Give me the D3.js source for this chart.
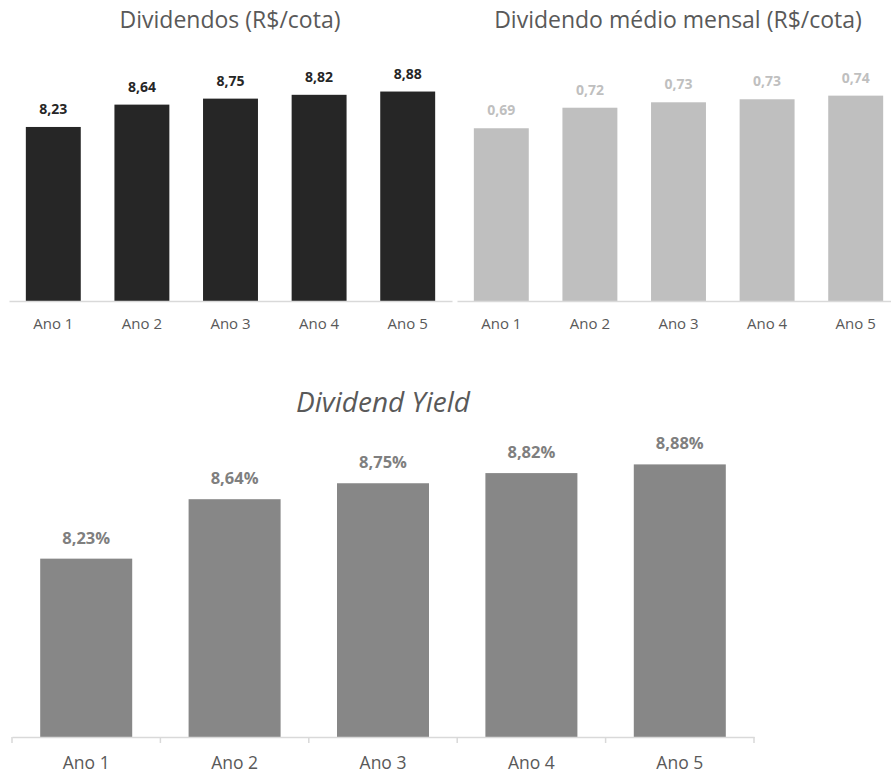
<!DOCTYPE html>
<html>
<head>
<meta charset="utf-8">
<script src="https://cdn.jsdelivr.net/npm/d3@7"></script>
<style>
  body { margin: 0; background: #fff; }
  text { font-family: "Open Sans", sans-serif; }
</style>
</head>
<body>
<div id="chart"></div>
<script>
// data
const categories = ["Ano 1", "Ano 2", "Ano 3", "Ano 4", "Ano 5"];
const dividendos = [8.23, 8.64, 8.75, 8.82, 8.88];
const dividendoMensal = [0.686, 0.720, 0.729, 0.734, 0.740];
const dividendYield = [8.23, 8.64, 8.75, 8.82, 8.88];

const width = 891, height = 773;

const ptBR = d3.formatLocale({decimal: ",", thousands: ".", grouping: [3], currency: ["R$", ""]});
const fmt2 = ptBR.format(".2f");

const svg = d3.select("#chart")
  .append("svg")
  .attr("width", width)
  .attr("height", height);

// one small bar chart
function barChart(opts) {
  const g = svg.append("g");

  const xScale = d3.scaleBand()
    .domain(categories)
    .range(opts.xRange)
    .paddingInner(0.38)
    .paddingOuter(0.19);

  const yScale = d3.scaleLinear()
    .domain(opts.yDomain)
    .range(opts.yRange);

  const data = categories.map((c, i) => ({cat: c, value: opts.values[i]}));

  g.selectAll("rect")
    .data(data)
    .join("rect")
      .attr("x", d => xScale(d.cat))
      .attr("y", d => yScale(d.value))
      .attr("width", xScale.bandwidth())
      .attr("height", d => opts.axisY - yScale(d.value))
      .attr("fill", opts.barColor);

  g.selectAll("text.value")
    .data(data)
    .join("text")
      .attr("class", "value")
      .attr("x", d => xScale(d.cat) + xScale.bandwidth() / 2)
      .attr("y", d => yScale(d.value) - opts.labelGap)
      .attr("text-anchor", "middle")
      .style("font-size", opts.labelSize + "px")
      .style("font-weight", "bold")
      .style("fill", opts.labelColor)
      .text(d => fmt2(d.value) + (opts.suffix || ""));

  const xAxis = d3.axisBottom(xScale)
    .tickSize(0)
    .tickPadding(opts.tickPadding);

  const ax = g.append("g")
    .attr("transform", `translate(0,${opts.axisY})`)
    .call(xAxis);
  ax.select(".domain")
    .attr("stroke", "#d9d9d9")
    .attr("stroke-width", 1.5);
  ax.selectAll("text")
    .style("font-family", "'Open Sans', sans-serif")
    .style("font-size", opts.tickSize + "px")
    .style("fill", "#595959");

  if (opts.tickMarks) {
    const [r0, r1] = xScale.range();
    const edges = categories.map(c => xScale(c) - xScale.step() * xScale.paddingInner() / 2);
    edges.push(r1);
    edges[0] = r0;
    ax.selectAll("line.edge")
      .data(edges)
      .join("line")
      .attr("class", "edge")
      .attr("x1", d => d).attr("x2", d => d)
      .attr("y1", 0).attr("y2", 6)
      .attr("stroke", "#d9d9d9")
      .attr("stroke-width", 1.5);
  }

  g.append("text")
    .attr("x", opts.titleX)
    .attr("y", opts.titleY)
    .attr("text-anchor", "middle")
    .style("font-size", opts.titleSize + "px")
    .style("font-style", opts.italic ? "italic" : "normal")
    .style("fill", "#595959")
    .text(opts.title);
}

barChart({
  title: "Dividendos (R$/cota)", titleX: 230, titleY: 27.5, titleSize: 23,
  values: dividendos, xRange: [9, 452], yDomain: [5, 9], yRange: [303, 85], axisY: 301,
  barColor: "#262626", labelColor: "#262626", labelSize: 14, labelGap: 13,
  tickSize: 15, tickPadding: 17
});

barChart({
  title: "Dividendo médio mensal (R$/cota)", titleX: 678, titleY: 27.5, titleSize: 23,
  values: dividendoMensal, xRange: [457, 900], yDomain: [0.4, 0.75], yRange: [301, 89.6], axisY: 301,
  barColor: "#bfbfbf", labelColor: "#bfbfbf", labelSize: 14, labelGap: 13,
  tickSize: 15, tickPadding: 17
});

barChart({
  title: "Dividend Yield", titleX: 383, titleY: 412, titleSize: 28, italic: true,
  values: dividendYield, xRange: [12, 754], yDomain: [7, 9], yRange: [737, 447], axisY: 737,
  barColor: "#878787", labelColor: "#7f7f7f", labelSize: 16.5, labelGap: 15, suffix: "%",
  tickSize: 17.5, tickPadding: 20, tickMarks: true
});
</script>
</body>
</html>
